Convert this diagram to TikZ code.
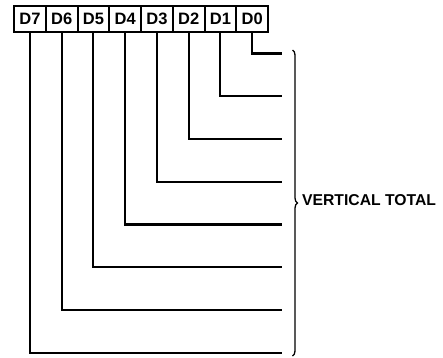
\documentclass[tikz,border=0pt]{standalone}
\usepackage{fontspec}
\setmainfont{Liberation Sans}
\usetikzlibrary{decorations.pathreplacing}
\begin{document}
\begin{tikzpicture}[x=1pt,y=-1pt,
  bitbox/.style={draw,line width=2.1pt,minimum width=31.75pt,minimum height=26.5pt,inner sep=0pt,anchor=north west,
    font=\bfseries\fontsize{16.5}{16.5}\selectfont},
  wire/.style={line width=2.1pt},
  lbl/.style={font=\bfseries\fontsize{15.7}{15.7}\selectfont,inner sep=0pt,anchor=west}]
\useasboundingbox (0,0) rectangle (443,357);
\node[bitbox] (d7) at (13,4.5) {D7};
\node[bitbox] (d6) at (44.75,4.5) {D6};
\node[bitbox] (d5) at (76.5,4.5) {D5};
\node[bitbox] (d4) at (108.25,4.5) {D4};
\node[bitbox] (d3) at (140,4.5) {D3};
\node[bitbox] (d2) at (171.75,4.5) {D2};
\node[bitbox] (d1) at (203.5,4.5) {D1};
\node[bitbox] (d0) at (235.25,4.5) {D0};
\coordinate (e0) at (282,53.5);
\coordinate (e1) at (282,96.25);
\coordinate (e2) at (282,139);
\coordinate (e3) at (282,181.75);
\coordinate (e4) at (282,224.5);
\coordinate (e5) at (282,267.25);
\coordinate (e6) at (282,310);
\coordinate (e7) at (282,352.75);
\foreach \k in {0,...,7}{\draw[wire] (d\k.south) |- (e\k);}
\coordinate (bt) at (292.5,50);
\coordinate (bb) at (292.5,356);
\draw[line width=1.3pt,decorate,decoration={brace,amplitude=5pt}] (bt) -- (bb);
\node[lbl] (vt) at (302,200) {VERTICAL TOTAL};
\end{tikzpicture}
\end{document}
